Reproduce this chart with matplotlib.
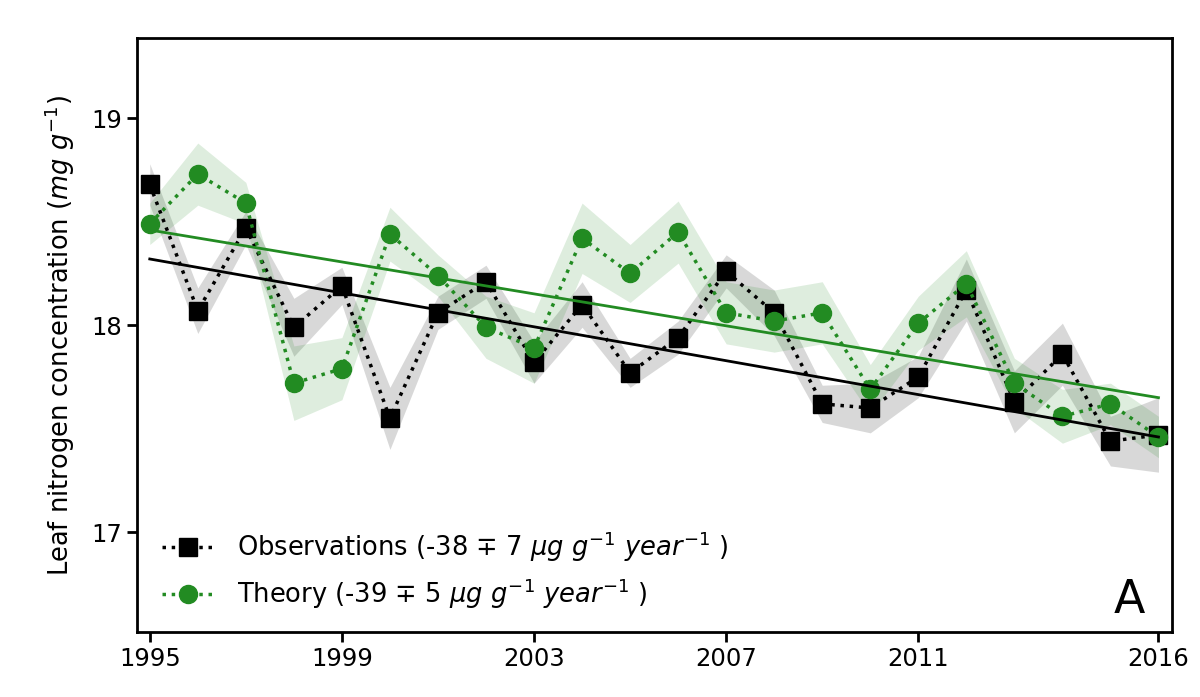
import numpy as np
import matplotlib
matplotlib.use("Agg")
import matplotlib.pyplot as plt

years = list(range(1995, 2017))
obs = [18.68, 18.07, 18.47, 17.99, 18.19, 17.55, 18.06, 18.21, 17.82, 18.10, 17.77,
       17.94, 18.26, 18.06, 17.62, 17.60, 17.75, 18.17, 17.63, 17.86, 17.44, 17.47]
obs_err = [0.10, 0.11, 0.08, 0.14, 0.09, 0.15, 0.08, 0.08, 0.10, 0.11, 0.07,
           0.08, 0.08, 0.11, 0.09, 0.12, 0.10, 0.15, 0.15, 0.15, 0.12, 0.18]
theory = [18.49, 18.73, 18.59, 17.72, 17.79, 18.44, 18.24, 17.99, 17.89, 18.42, 18.25,
          18.45, 18.06, 18.02, 18.06, 17.69, 18.01, 18.20, 17.72, 17.56, 17.62, 17.46]
theory_err = [0.10, 0.15, 0.10, 0.18, 0.15, 0.13, 0.10, 0.15, 0.17, 0.17, 0.14,
              0.15, 0.15, 0.15, 0.15, 0.12, 0.13, 0.16, 0.12, 0.13, 0.10, 0.10]
trend_years = [1995, 2016]
obs_trend = [18.32, 17.46]
theory_trend = [18.46, 17.65]
obs_label = r"Observations (-38 $\mp$ 7 $\mu g\ g^{-1}\ year^{-1}$ )"
theory_label = r"Theory (-39 $\mp$ 5 $\mu g\ g^{-1}\ year^{-1}$ )"
xticks = [1995, 1999, 2003, 2007, 2011, 2016]
yticks = [17, 18, 19]

green = "#228B22"
x = np.array(years)
o = np.array(obs); oe = np.array(obs_err)
t = np.array(theory); te = np.array(theory_err)

fig = plt.figure(figsize=(12, 6.97), dpi=100)
ax = fig.add_axes([0.114, 0.093, 0.863, 0.852])

ax.fill_between(x, o - oe, o + oe, color="gray", alpha=0.3, lw=0)
ax.fill_between(x, t - te, t + te, color=green, alpha=0.15, lw=0)
ax.plot(x, o, ls=":", color="black", lw=2.5, marker="s", ms=13, label=obs_label)
ax.plot(x, t, ls=":", color=green, lw=2.5, marker="o", ms=13, label=theory_label)
ax.plot(trend_years, obs_trend, color="black", lw=2)
ax.plot(trend_years, theory_trend, color=green, lw=2)

ax.set_xlim(1994.73, 2016.29)
ax.set_ylim(16.517, 19.386)
ax.set_xticks(xticks)
ax.set_yticks(yticks)
ax.tick_params(labelsize=17.5, length=7, width=2)
for s in ax.spines.values():
    s.set_linewidth(2)
ax.set_ylabel(r"Leaf nitrogen concentration ($mg\ g^{-1}$)", fontsize=18.5, labelpad=10)

leg = ax.legend(loc="lower left", bbox_to_anchor=(0.0, -0.008), frameon=False,
                fontsize=18.5, handlelength=2.0, handletextpad=0.9, labelspacing=0.5,
                borderpad=0.5)
ax.text((1129 - 137) / 1035, (632 - 600) / 594, "A", transform=ax.transAxes,
        fontsize=33, ha="center", va="center")

fig.savefig("out.png", dpi=100)
